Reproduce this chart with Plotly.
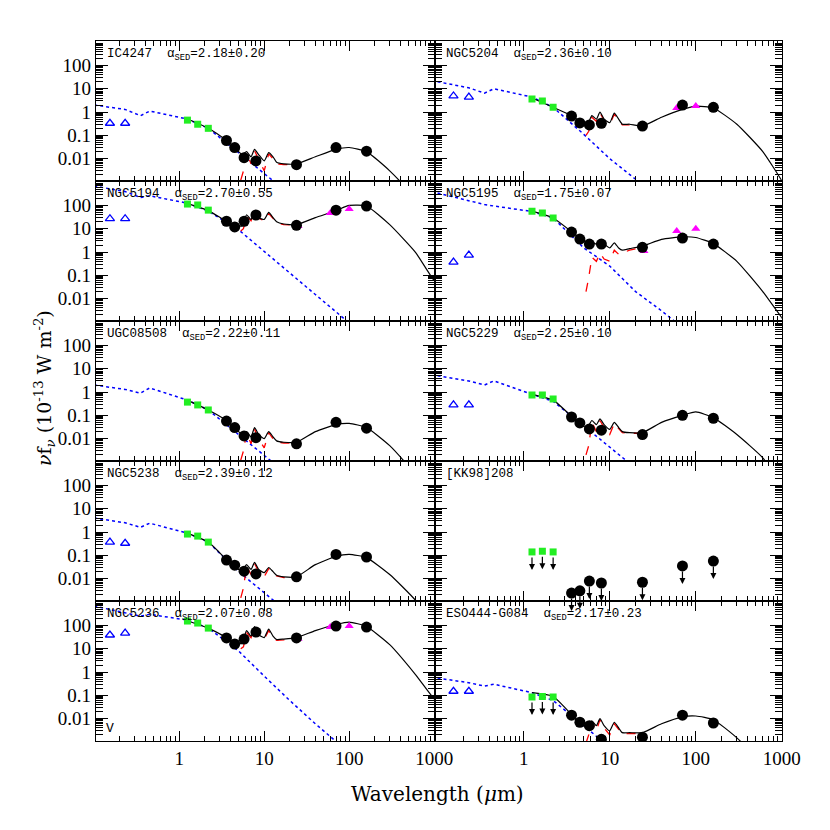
import numpy as np
import plotly.graph_objects as go
from plotly.subplots import make_subplots

names = ["IC4247", "NGC5204", "NGC5194", "NGC5195", "UGC08508",
         "NGC5229", "NGC5238", "[KK98]208", "NGC5236", "ESO444-G084"]
alpha_sed = ["2.18±0.20", "2.36±0.10", "2.70±0.55", "1.75±0.07", "2.22±0.11",
             "2.25±0.10", "2.39±0.12", None, "2.07±0.08", "2.17±0.23"]

uv_wl = [0.153, 0.231]
nir_wl = [1.25, 1.65, 2.2]
ir_wl = [3.6, 4.5, 5.8, 8.0, 24, 70, 160]
iras_wl = [25, 60, 100]
star_wl = [0.1, 0.23, 0.35, 0.45, 1.25, 2.2, 5, 10, 20, 40, 80, 160]
model_wl = [1.25, 2.2, 3.6, 4.5, 5.5, 6.2, 7.0, 7.7, 8.6, 10, 11.3, 12.7, 14, 17,
            24, 40, 70, 100, 160, 300, 600, 1000, 1200]
pah_wl = [5.3, 5.7, 6.2, 7.0, 7.7, 8.6, 10, 11.3, 12.7, 14, 17, 24]

uv_flux = [[0.33, 0.33], [4.9, 4.4], [27, 27], [0.37, 0.74], None,
           [0.28, 0.28], [0.37, 0.33], None, [39, 47], [0.15, 0.15]]
nir_flux = [[0.45, 0.3, 0.2], [3.6, 3.0, 1.6], [115, 105, 63], [57, 47, 29],
            [0.37, 0.28, 0.17], [0.74, 0.74, 0.5], [0.82, 0.67, 0.37],
            [0.14, 0.15, 0.14], [155, 127, 77], [0.085, 0.09, 0.085]]
ir_flux = [[0.06, 0.03, 0.011, 0.008, 0.0055, 0.03, 0.021],
           [0.67, 0.34, 0.28, 0.33, 0.25, 2.0, 1.6],
           [21, 12, 21, 39, 14, 63, 94],
           [7.2, 3.6, 2.2, 2.2, 1.6, 4.0, 2.2],
           [0.057, 0.03, 0.013, 0.011, 0.006, 0.05, 0.028],
           [0.085, 0.047, 0.026, 0.023, 0.015, 0.1, 0.075],
           [0.063, 0.038, 0.021, 0.016, 0.012, 0.11, 0.085],
           [0.0024, 0.003, 0.0079, 0.0065, 0.007, 0.035, 0.057],
           [29, 16, 26, 52, 29, 94, 85],
           [0.014, 0.007, 0.005, 0.0013, 0.0016, 0.014, 0.0065]]
iras_flux = [None, [None, 1.5, 1.8], [13, 47, 70], [1.1, 8, 10], None,
             None, None, None, [27, 85, 94], None]
nir_limit = [False, False, False, False, False, False, False, True, False, True]
ir_limit = [False, False, False, False, False, False, False, True, False, False]

star_flux = [[2.0, 1.3, 0.7, 1.1, 0.5, 0.2, 0.018, 0.0022, 3e-4, 4e-5, 5e-6, 6e-7],
             [20, 11, 6.5, 10, 4.4, 1.6, 0.11, 0.01, 1.3e-3, 1.6e-4, 2e-5, 2.5e-6],
             [680, 400, 220, 260, 125, 57, 9, 1.1, 0.13, 0.015, 0.0018, 2e-4],
             [340, 160, 110, 95, 55, 29, 1.5, 0.25, 0.02, 0.003, 4e-4, 5e-5],
             [2.0, 1.3, 0.9, 1.5, 0.45, 0.17, 0.015, 0.002, 2.5e-4, 3e-5, 4e-6, 5e-7],
             [5, 3, 2, 3, 0.8, 0.4, 0.035, 0.004, 5e-4, 6e-5, 8e-6, 1e-6],
             [4, 2.5, 1.6, 2.4, 0.9, 0.37, 0.02, 0.0024, 3e-4, 4e-5, 5e-6, 6e-7],
             None,
             [680, 340, 250, 300, 170, 77, 8, 0.67, 0.06, 0.006, 7e-4, 8e-5],
             [0.55, 0.35, 0.25, 0.3, 0.13, 0.06, 0.005, 6e-4, 8e-5, 1e-5, 1e-6, 1e-7]]

model_flux = [[0.5, 0.2, 0.06, 0.03, 0.015, 0.02, 0.012, 0.025, 0.015, 0.008, 0.018, 0.012,
               0.007, 0.006, 0.006, 0.012, 0.025, 0.03, 0.02, 0.003, 2e-4, 2e-5, 1e-5],
              [4, 1.6, 0.7, 0.4, 0.3, 0.7, 0.5, 1.0, 0.5, 0.35, 0.9, 0.5,
               0.3, 0.3, 0.25, 0.6, 1.3, 1.8, 1.5, 0.3, 0.02, 0.0011, 3e-4],
              [120, 60, 21, 15, 13, 40, 25, 60, 30, 25, 50, 30,
               20, 16, 15, 30, 60, 100, 95, 15, 1, 0.06, 0.04],
              [57, 29, 7.5, 4, 2.5, 2.6, 2.2, 2.6, 2.2, 1.5, 2.5, 1.5,
               1.2, 1.4, 1.8, 3.5, 4.5, 4.2, 2.3, 0.4, 0.02, 0.0015, 6e-4],
              [0.45, 0.17, 0.06, 0.03, 0.015, 0.02, 0.012, 0.03, 0.015, 0.01, 0.02, 0.012,
               0.008, 0.007, 0.007, 0.02, 0.04, 0.045, 0.03, 0.005, 3e-4, 3e-5, 1e-5],
              [0.8, 0.45, 0.09, 0.04, 0.03, 0.06, 0.04, 0.07, 0.04, 0.025, 0.05, 0.03,
               0.02, 0.018, 0.018, 0.05, 0.1, 0.14, 0.08, 0.015, 0.0015, 1e-4, 5e-5],
              [0.9, 0.37, 0.065, 0.03, 0.022, 0.04, 0.025, 0.05, 0.025, 0.018, 0.03, 0.02,
               0.014, 0.012, 0.012, 0.04, 0.09, 0.11, 0.08, 0.015, 0.0012, 8e-5, 4e-5],
              None,
              [160, 77, 30, 18, 17, 60, 35, 90, 40, 30, 70, 35,
               25, 26, 30, 60, 110, 140, 90, 15, 0.8, 0.07, 0.04],
              [0.13, 0.09, 0.015, 0.006, 0.0045, 0.008, 0.005, 0.01, 0.005, 0.003, 0.007, 0.004,
               0.0025, 0.0025, 0.0025, 0.006, 0.012, 0.013, 0.009, 0.0015, 1e-4, 1e-5, 5e-6]]

pah_flux = [[0.0012, 0.003, 0.018, 0.006, 0.022, 0.01, 0.003, 0.016, 0.01, 0.006, 0.0055, 0.0055],
            [0.1, 0.15, 0.6, 0.4, 0.9, 0.45, 0.3, 0.8, 0.45, 0.28, 0.28, 0.24],
            [8, 10, 35, 22, 55, 28, 22, 45, 28, 18, 15, 14],
            [0.02, 0.08, 0.6, 0.4, 0.9, 0.5, 0.4, 1.2, 0.8, 0.9, 1.2, 1.6],
            [0.0012, 0.003, 0.018, 0.006, 0.025, 0.01, 0.004, 0.018, 0.01, 0.007, 0.0065, 0.0065],
            [0.002, 0.005, 0.05, 0.02, 0.06, 0.03, 0.015, 0.045, 0.027, 0.018, 0.017, 0.017],
            [0.0015, 0.004, 0.035, 0.015, 0.045, 0.02, 0.012, 0.027, 0.018, 0.013, 0.011, 0.011],
            None,
            [10, 12, 50, 30, 80, 35, 26, 60, 32, 23, 24, 28],
            [0.0009, 0.002, 0.007, 0.003, 0.009, 0.004, 0.002, 0.006, 0.0035, 0.0023, 0.0023, 0.0023]]

W = 830.0
col_px = [(90, 437), (437, 792)]
xranges = [[-0.98, 3.01], [-1.03, 3.0]]
top_px, row_h = 33, 140

x_minor = [d * 10.0 ** e for e in range(-2, 4) for d in range(2, 10)]
y_minor = [d * 10.0 ** e for e in range(-4, 4) for d in range(2, 10)]

fig = make_subplots(rows=5, cols=2, horizontal_spacing=0, vertical_spacing=0)

for i in range(10):
    r, c = i // 2 + 1, i % 2 + 1
    if star_flux[i] is not None:
        fig.add_trace(go.Scatter(x=star_wl, y=star_flux[i], mode="lines",
                                 line=dict(color="blue", width=1.5, dash="dot")), row=r, col=c)
    if pah_flux[i] is not None:
        fig.add_trace(go.Scatter(x=pah_wl, y=pah_flux[i], mode="lines",
                                 line=dict(color="red", width=1.3, dash="dash")), row=r, col=c)
    if model_flux[i] is not None:
        fig.add_trace(go.Scatter(x=model_wl, y=model_flux[i], mode="lines", line_shape="spline",
                                 line=dict(color="black", width=1.2, smoothing=0.5)), row=r, col=c)
    if uv_flux[i] is not None:
        fig.add_trace(go.Scatter(x=uv_wl, y=uv_flux[i], mode="markers",
                                 marker=dict(symbol="triangle-up-open", size=8, color="blue",
                                             line=dict(width=1.3))), row=r, col=c)
    fig.add_trace(go.Scatter(x=nir_wl, y=nir_flux[i], mode="markers",
                             marker=dict(symbol="square", size=7, color="#22ee22")), row=r, col=c)
    if iras_flux[i] is not None:
        fig.add_trace(go.Scatter(x=iras_wl, y=iras_flux[i], mode="markers",
                                 marker=dict(symbol="triangle-up", size=8, color="magenta")), row=r, col=c)
    fig.add_trace(go.Scatter(x=ir_wl, y=ir_flux[i], mode="markers",
                             marker=dict(symbol="circle", size=11, color="black")), row=r, col=c)

    axn = "" if i == 0 else str(i + 1)
    xref, yref = "x" + axn, "y" + axn
    for wl_list, fl_list, lim in [(nir_wl, nir_flux[i], nir_limit[i]), (ir_wl, ir_flux[i], ir_limit[i])]:
        if lim:
            for wl, fl in zip(wl_list, fl_list):
                fig.add_annotation(x=np.log10(wl), y=np.log10(fl), xref=xref, yref=yref,
                                   showarrow=True, ax=0, ay=-14, yshift=-18, text="",
                                   arrowhead=2, arrowsize=1, arrowwidth=1.2, arrowcolor="black")

    label = names[i]
    if alpha_sed[i] is not None:
        label += "  α<sub>SED</sub>=" + alpha_sed[i]
    x0 = col_px[c - 1][0]
    y0 = top_px + (r - 1) * row_h
    fig.add_annotation(x=(x0 + 9) / W, y=1 - (y0 + 4) / W, xref="paper", yref="paper",
                       text=label, showarrow=False, xanchor="left", yanchor="top",
                       font=dict(family="Liberation Mono", size=12.5, color="black"))

# UV upper limit mark in NGC5236 panel
fig.add_trace(go.Scatter(x=[0.153], y=[0.0036], mode="text", text=["V"],
                         textfont=dict(family="Liberation Mono", size=13, color="black")), row=5, col=1)

tickfont = dict(family="Liberation Serif", size=19, color="black")
for r in range(1, 6):
    for c in range(1, 3):
        y0 = top_px + (r - 1) * row_h
        fig.update_xaxes(type="log", range=xranges[c - 1],
                         domain=[col_px[c - 1][0] / W, col_px[c - 1][1] / W],
                         tickvals=[1, 10, 100, 1000], ticktext=["1", "10", "100", "1000"],
                         showticklabels=(r == 5), ticks="inside", ticklen=10, tickcolor="black",
                         minor=dict(ticks="inside", ticklen=5, tickcolor="black", showgrid=False,
                                    tickvals=x_minor),
                         mirror="allticks", showline=True, linecolor="black", linewidth=1.3,
                         showgrid=False, zeroline=False, tickfont=tickfont, row=r, col=c)
        fig.update_yaxes(type="log", range=[-2.96, 3.05],
                         domain=[1 - (y0 + row_h) / W, 1 - y0 / W],
                         tickvals=[0.01, 0.1, 1, 10, 100], ticktext=["0.01", "0.1", "1", "10", "100"],
                         showticklabels=(c == 1), ticks="inside", ticklen=12, tickcolor="black",
                         minor=dict(ticks="inside", ticklen=7, tickcolor="black", showgrid=False,
                                    tickvals=y_minor),
                         mirror="allticks", showline=True, linecolor="black", linewidth=1.3,
                         showgrid=False, zeroline=False, tickfont=tickfont, row=r, col=c)

fig.add_annotation(x=440 / W, y=1 - 800 / W, xref="paper", yref="paper", showarrow=False,
                   text="Wavelength (<i>μ</i>m)",
                   font=dict(family="DejaVu Serif", size=20, color="black"))
fig.add_annotation(x=22 / W, y=1 - 380 / W, xref="paper", yref="paper", showarrow=False,
                   text="<i>ν</i>f<sub><i>ν</i></sub> (10<sup>-13</sup> W m<sup>-2</sup>)", textangle=-90,
                   font=dict(family="DejaVu Serif", size=19, color="black"))

fig.update_layout(width=830, height=830, showlegend=False, plot_bgcolor="white",
                  paper_bgcolor="white", margin=dict(l=0, r=0, t=0, b=0))

fig.write_html("out.html")
